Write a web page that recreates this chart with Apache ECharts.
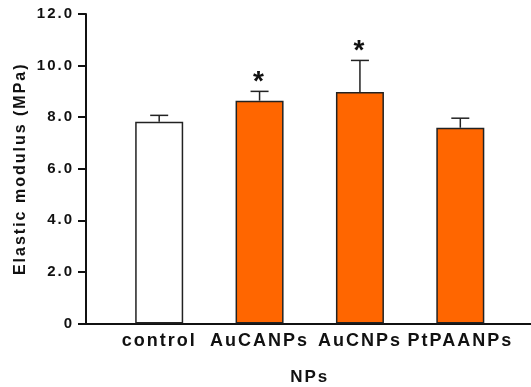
<!DOCTYPE html>
<html>
<head>
<meta charset="utf-8">
<title>Elastic modulus</title>
<script src="https://cdn.jsdelivr.net/npm/echarts@6/dist/echarts.min.js"></script>
<style>
  html, body { margin: 0; padding: 0; background: #fff; }
  #main { width: 531px; height: 387px; }
</style>
</head>
<body>
<div id="main"></div>
<script>
// data
const categories = ['control', 'AuCANPs', 'AuCNPs', 'PtPAANPs']
const means = [7.82, 8.64, 8.98, 7.59]
const errors = [0.25, 0.36, 1.22, 0.37]
const marks = ['', '*', '*', '']
const barColors = ['#ffffff', '#ff6600', '#ff6600', '#ff6600']
const yTicks = [0, 2, 4, 6, 8, 10, 12]

// the figure uses wide tracking on all its labels
const fillText = CanvasRenderingContext2D.prototype.fillText
CanvasRenderingContext2D.prototype.fillText = function () {
  this.letterSpacing = '2px'
  fillText.apply(this, arguments)
  this.letterSpacing = '0px'
}

const chart = echarts.init(document.getElementById('main'))
const font = 'Liberation Sans, Arial, sans-serif'

const option = {
  animation: false,
  backgroundColor: '#ffffff',
  grid: [
    // outer frame: y axis + full length x axis line
    { left: 86, right: 0, top: 14, bottom: 63.5, outerBoundsMode: 'none' },
    // bars
    { left: 109, right: 20.5, top: 14, bottom: 63.5, outerBoundsMode: 'none' }
  ],
  xAxis: [
    {
      gridIndex: 0,
      type: 'value',
      min: 0,
      max: 1,
      axisLine: { show: true, lineStyle: { color: '#111', width: 2 } },
      axisTick: { show: false },
      axisLabel: { show: false },
      splitLine: { show: false }
    },
    {
      gridIndex: 1,
      type: 'category',
      data: categories,
      axisLine: { show: false },
      axisTick: { show: false },
      axisLabel: {
        interval: 0,
        margin: 9,
        color: '#111',
        fontSize: 18,
        fontWeight: 'bold',
        fontFamily: font
      },
      name: 'NPs',
      nameLocation: 'middle',
      nameGap: 45,
      nameTextStyle: { color: '#111', fontSize: 17, fontWeight: 'bold', fontFamily: font }
    }
  ],
  yAxis: [
    {
      gridIndex: 0,
      type: 'value',
      min: yTicks[0],
      max: yTicks[yTicks.length - 1],
      interval: 2,
      axisLine: { show: true, lineStyle: { color: '#111', width: 2 } },
      axisTick: { show: true, length: 8, lineStyle: { color: '#111', width: 2 } },
      axisLabel: {
        margin: 12,
        color: '#111',
        fontSize: 15,
        fontWeight: 'bold',
        fontFamily: font,
        formatter: v => (v === 0 ? '0' : v.toFixed(1))
      },
      splitLine: { show: false },
      name: 'Elastic modulus (MPa)',
      nameLocation: 'middle',
      nameGap: 57,
      nameTextStyle: { color: '#111', fontSize: 16, fontWeight: 'bold', fontFamily: font }
    },
    {
      gridIndex: 1,
      type: 'value',
      min: yTicks[0],
      max: yTicks[yTicks.length - 1],
      show: false
    }
  ],
  series: [
    {
      type: 'bar',
      xAxisIndex: 1,
      yAxisIndex: 1,
      barWidth: 48,
      data: means.map((v, i) => ({
        value: v,
        itemStyle: { color: barColors[i], borderColor: '#222', borderWidth: 1.5 }
      })),
      z: 2
    },
    {
      // one-sided error bars and significance stars
      type: 'custom',
      xAxisIndex: 1,
      yAxisIndex: 1,
      data: means.map((v, i) => [i, v, v + errors[i]]),
      renderItem: (params, api) => {
        const base = api.coord([api.value(0), api.value(1)])
        const top = api.coord([api.value(0), api.value(2)])
        const half = 9
        const style = { stroke: '#222', lineWidth: 1.5 }
        const children = [
          { type: 'line', shape: { x1: base[0], y1: base[1], x2: top[0], y2: top[1] }, style: style },
          { type: 'line', shape: { x1: top[0] - half, y1: top[1], x2: top[0] + half, y2: top[1] }, style: style }
        ]
        const m = marks[params.dataIndex]
        if (m) {
          children.push({
            type: 'text',
            style: {
              text: m,
              x: top[0],
              y: top[1] - 9,
              align: 'center',
              verticalAlign: 'middle',
              fill: '#111',
              font: 'bold 28px ' + font
            }
          })
        }
        return { type: 'group', children: children }
      },
      z: 3
    }
  ]
}

chart.setOption(option)
</script>
</body>
</html>
